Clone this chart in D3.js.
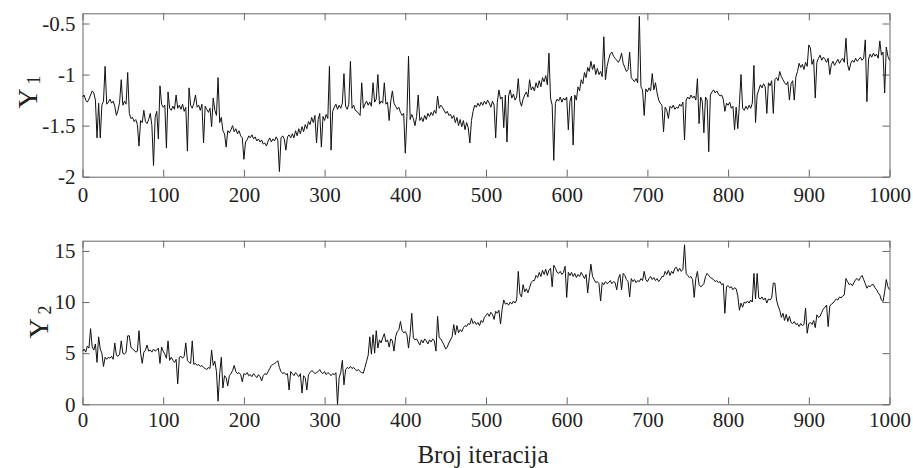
<!DOCTYPE html>
<html>
<head>
<meta charset="utf-8">
<script src="https://cdn.jsdelivr.net/npm/d3@7"></script>
<style>
  body { margin: 0; background: #fff; }
  svg { display: block; }
  text { font-family: "Liberation Serif", "Times New Roman", serif; fill: #222; }
</style>
</head>
<body>
<script>
// Sampler traces, one value every second iteration (0, 2, ..., 1000).
const iterStep = 2;

const y1Values = [
  -1.22,-1.20,-1.25,-1.27,-1.24,-1.20,-1.16,-1.18,-1.25,-1.62,
  -1.28,-1.62,-1.30,-1.26,-0.92,-1.29,-1.27,-1.24,-1.28,-1.26,
  -1.31,-1.40,-1.35,-1.27,-1.05,-1.30,-1.26,-1.29,-0.98,-1.38,
  -1.43,-1.42,-1.46,-1.44,-1.49,-1.70,-1.45,-1.47,-1.35,-1.46,
  -1.48,-1.44,-1.38,-1.50,-1.89,-1.42,-1.36,-1.63,-1.11,-1.29,
  -1.32,-1.30,-1.72,-1.17,-1.33,-1.35,-1.31,-1.34,-1.20,-1.33,
  -1.30,-1.34,-1.29,-1.36,-1.32,-1.75,-1.13,-1.30,-1.33,-1.28,
  -1.20,-1.32,-1.30,-1.35,-1.29,-1.67,-1.31,-1.34,-1.37,-1.33,
  -1.51,-1.23,-1.35,-1.40,-1.03,-1.47,-1.42,-1.55,-1.58,-1.71,
  -1.55,-1.57,-1.54,-1.50,-1.56,-1.53,-1.58,-1.55,-1.60,-1.62,
  -1.83,-1.66,-1.64,-1.60,-1.62,-1.59,-1.63,-1.61,-1.65,-1.63,
  -1.66,-1.64,-1.68,-1.67,-1.70,-1.65,-1.62,-1.66,-1.63,-1.65,
  -1.61,-1.64,-1.95,-1.62,-1.60,-1.63,-1.74,-1.61,-1.59,-1.62,
  -1.58,-1.62,-1.55,-1.60,-1.53,-1.58,-1.51,-1.56,-1.49,-1.53,
  -1.46,-1.49,-1.42,-1.47,-1.40,-1.67,-1.44,-1.38,-1.71,-1.41,
  -1.45,-1.39,-1.43,-0.92,-1.74,-1.36,-1.32,-1.29,-1.34,-1.30,
  -1.33,-1.28,-0.99,-1.31,-1.34,-1.29,-0.87,-1.33,-1.30,-1.35,
  -1.36,-1.38,-1.40,-1.08,-1.33,-1.29,-1.26,-1.30,-1.27,-1.31,
  -1.08,-1.27,-1.24,-1.00,-1.29,-1.26,-1.28,-1.08,-1.29,-1.27,
  -1.45,-1.26,-1.16,-1.28,-1.31,-1.34,-1.32,-1.37,-1.40,-1.38,
  -1.77,-1.41,-0.82,-1.44,-1.39,-1.43,-1.50,-1.41,-1.20,-1.45,
  -1.42,-1.46,-1.40,-1.44,-1.38,-1.41,-1.37,-1.40,-1.35,-1.38,
  -1.21,-1.33,-1.30,-1.32,-1.35,-1.38,-1.36,-1.40,-1.39,-1.43,
  -1.40,-1.47,-1.42,-1.50,-1.44,-1.51,-1.45,-1.54,-1.47,-1.52,
  -1.67,-1.45,-1.36,-1.30,-1.32,-1.28,-1.31,-1.27,-1.30,-1.26,
  -1.29,-1.25,-1.28,-1.32,-1.26,-1.30,-1.62,-1.27,-1.15,-1.24,
  -1.22,-1.52,-1.20,-1.66,-1.21,-1.15,-1.23,-1.19,-1.25,-1.22,
  -1.04,-1.26,-1.31,-1.24,-1.20,-1.17,-1.22,-1.05,-1.15,-1.12,
  -1.16,-1.08,-1.13,-1.06,-1.12,-1.03,-1.07,-1.01,-1.10,-0.79,
  -1.23,-1.30,-1.84,-1.28,-1.24,-1.26,-1.22,-1.27,-1.23,-1.25,
  -1.22,-1.54,-1.26,-1.21,-1.69,-1.20,-1.25,-1.12,-1.16,-1.05,
  -1.09,-0.98,-1.03,-0.93,-0.97,-0.87,-0.95,-0.90,-1.00,-0.94,
  -1.00,-0.97,-1.02,-0.63,-1.05,-0.92,-0.85,-0.80,-0.78,-0.82,
  -0.84,-0.86,-0.88,-0.85,-0.79,-0.89,-0.93,-0.97,-0.95,-0.78,
  -1.03,-1.05,-1.07,-1.04,-1.08,-0.43,-1.12,-1.15,-1.40,-1.14,
  -1.17,-1.13,-1.16,-0.99,-1.15,-1.08,-1.18,-1.25,-1.28,-1.30,
  -1.56,-1.32,-1.35,-1.43,-1.31,-1.33,-1.30,-1.34,-1.32,-1.33,
  -1.29,-1.31,-1.27,-1.64,-1.25,-1.22,-1.24,-1.20,-1.23,-1.21,
  -1.25,-1.04,-1.48,-1.22,-1.26,-1.57,-1.22,-1.25,-1.755,-1.20,
  -1.17,-1.15,-1.18,-1.16,-1.19,-1.21,-1.20,-1.24,-1.36,-1.28,
  -1.30,-1.27,-1.33,-1.31,-1.54,-1.32,-1.53,-1.29,-1.00,-1.33,
  -1.35,-1.31,-1.34,-1.30,-1.33,-1.28,-0.91,-1.47,-1.20,-1.15,
  -1.10,-1.13,-1.09,-1.12,-1.38,-1.08,-1.11,-1.06,-1.38,-1.05,
  -1.03,-1.06,-0.97,-1.02,-1.05,-1.08,-1.10,-1.07,-1.25,-1.09,
  -1.06,-1.25,-1.02,-0.97,-0.89,-0.93,-0.90,-0.95,-0.88,-0.92,
  -0.71,-0.74,-0.90,-0.85,-1.23,-0.88,-0.84,-0.81,-0.86,-0.83,
  -0.85,-0.88,-0.84,-1.00,-0.90,-0.87,-0.91,-0.88,-0.85,-0.89,
  -0.86,-0.84,-0.88,-0.645,-0.90,-0.96,-0.89,-0.86,-0.88,-0.84,
  -0.87,-0.85,-0.83,-0.86,-0.84,-0.66,-1.265,-0.85,-0.80,-0.83,
  -0.79,-0.82,-0.80,-0.84,-0.67,-0.81,-0.78,-1.18,-0.73,-0.82,
  -0.86
];

const y2Values = [
  5.2,5.4,5.1,5.7,5.5,7.4,5.6,5.3,5.9,4.1,
  6.6,5.4,5.0,3.7,4.6,4.4,4.6,4.5,4.7,4.4,
  6.0,4.8,4.7,4.9,6.2,5.0,4.9,5.1,6.7,6.7,
  5.6,5.4,5.3,5.1,5.2,7.2,5.0,4.0,5.1,5.3,
  5.8,5.2,5.3,5.1,5.4,5.2,5.3,5.5,4.0,5.6,
  5.2,4.9,4.5,6.2,4.3,4.6,4.3,4.1,4.4,2.0,
  4.6,4.7,4.5,4.7,6.0,4.3,4.1,4.0,6.2,3.9,
  4.0,3.8,3.9,3.7,3.8,3.6,3.5,3.4,3.6,3.5,
  5.3,3.8,4.2,3.2,0.3,3.0,4.6,1.6,2.8,2.6,
  1.8,2.8,3.0,3.3,3.8,3.2,3.0,3.1,2.9,2.2,
  3.0,2.9,3.1,2.8,2.9,2.7,3.0,2.8,2.6,2.9,
  2.7,2.3,2.8,3.0,2.9,3.2,3.5,3.8,3.9,4.0,
  4.1,4.26,3.6,3.2,3.0,3.1,2.9,3.0,1.4,3.2,
  3.0,2.8,3.1,2.9,2.7,3.0,1.1,2.8,2.6,1.4,
  2.9,3.1,3.3,3.2,3.0,3.1,3.2,3.4,3.1,3.0,
  3.2,2.9,3.1,3.0,2.8,3.0,2.9,3.1,0.0,2.6,
  3.1,4.3,1.9,3.4,3.6,3.5,3.7,3.5,3.6,3.4,
  3.3,3.4,3.2,3.1,3.05,3.6,4.2,4.8,6.6,4.9,
  6.8,5.0,7.2,5.5,6.3,6.0,6.5,6.9,6.1,6.3,
  5.6,6.4,6.2,5.2,6.6,7.1,7.3,8.1,7.2,7.0,
  7.1,6.8,5.5,6.9,8.9,6.5,6.3,6.4,6.1,5.8,
  6.3,6.0,6.4,6.2,5.9,6.3,6.1,6.4,6.2,5.2,
  8.6,6.5,6.4,6.1,5.8,5.4,5.6,6.0,6.3,6.6,
  7.8,6.8,7.7,7.0,7.3,7.1,7.5,7.7,7.6,7.9,
  7.8,8.4,7.9,8.1,7.8,8.0,7.7,8.2,8.0,8.5,
  8.7,8.9,8.6,9.0,8.8,8.3,9.1,8.9,9.2,7.85,
  9.3,10.2,9.8,9.9,9.7,10.0,9.8,10.1,9.9,10.2,
  13.0,10.8,10.5,11.7,11.0,11.3,10.9,11.4,11.9,12.1,
  12.1,12.6,12.4,12.9,12.5,13.1,12.7,13.2,12.6,13.1,
  13.3,11.5,13.6,13.3,12.9,12.8,13.0,12.7,12.9,13.5,
  10.45,12.9,12.6,12.9,12.5,12.8,12.4,12.7,12.5,12.9,
  12.6,12.3,12.7,10.9,12.4,13.7,12.5,12.2,11.9,12.0,
  11.8,10.1,11.9,11.7,12.0,11.8,11.9,12.1,11.8,12.0,
  11.9,11.2,12.3,12.7,11.2,12.8,12.6,12.2,12.0,10.5,
  12.3,12.0,12.2,11.9,12.1,12.0,12.3,12.1,13.0,12.2,
  12.0,12.3,12.5,12.2,12.4,12.1,12.3,12.0,12.2,12.5,
  12.5,13.0,12.7,13.1,12.6,13.0,12.8,13.3,13.4,13.0,
  13.3,13.0,13.2,15.6,12.8,12.6,12.4,12.5,12.2,10.45,
  12.3,13.0,11.7,11.5,11.6,11.8,12.5,12.8,12.6,12.4,
  12.3,12.2,12.0,12.1,11.9,12.0,11.7,11.8,8.9,11.5,
  11.6,11.4,11.5,11.2,11.4,11.3,10.6,9.2,9.9,9.5,
  10.0,9.9,10.1,9.9,10.2,10.0,12.8,10.3,12.8,10.4,
  10.3,10.5,10.2,10.4,9.9,10.3,10.2,10.4,11.85,11.85,
  10.2,9.6,9.2,8.5,8.9,8.2,8.8,8.1,8.6,8.0,
  7.9,8.1,7.8,7.9,7.6,7.9,7.7,7.8,9.4,6.95,
  7.9,8.0,7.8,8.2,7.5,8.75,8.5,8.6,9.0,9.3,
  9.5,9.7,7.6,9.6,9.8,9.9,10.1,10.3,10.2,10.5,
  10.4,10.6,10.7,12.3,12.0,11.7,11.8,11.6,11.9,12.2,
  12.3,12.1,12.4,12.6,12.2,11.8,11.35,11.6,11.5,11.7,
  11.7,11.4,11.2,10.9,10.7,10.2,10.05,11.0,12.2,11.5,
  11.2
];

const xTicks = [0, 100, 200, 300, 400, 500, 600, 700, 800, 900, 1000];
const y1Ticks = [-2, -1.5, -1, -0.5];
const y1Domain = [-2, -0.4];
const y2Ticks = [0, 5, 10, 15];
const y2Domain = [0, 16];
const xLabel = "Broj iteracija";

const W = 913, H = 468;
const svg = d3.select("body").append("svg").attr("width", W).attr("height", H);

const x = d3.scaleLinear().domain([0, 1000]).range([82.5, 889.5]);

function drawPanel(opts) {
  const y = d3.scaleLinear().domain(opts.domain).range([opts.bottom, opts.top]);
  const g = svg.append("g");
  const fmt = d => String(d);

  const styleAxis = sel => {
    sel.selectAll("path.domain").attr("stroke", "#666").attr("stroke-width", 1);
    sel.selectAll(".tick line").attr("stroke", "#666").attr("stroke-width", 1);
    sel.selectAll("text").attr("fill", "#222").attr("font-size", 21)
      .attr("font-family", '"Liberation Serif", "Times New Roman", serif');
  };

  // labelled left and bottom axes, ticks pointing inward
  g.append("g").attr("transform", `translate(${x.range()[0]},0)`)
    .call(d3.axisLeft(y).tickValues(opts.ticks).tickFormat(fmt).tickSizeInner(-7).tickSizeOuter(0).tickPadding(7))
    .call(styleAxis);
  g.append("g").attr("transform", `translate(0,${opts.bottom})`)
    .call(d3.axisBottom(x).tickValues(xTicks).tickFormat(fmt).tickSizeInner(-7).tickSizeOuter(0).tickPadding(opts.xPad))
    .call(styleAxis);
  // mirrored ticks on the top and right edges of the box
  g.append("g").attr("transform", `translate(${x.range()[1]},0)`)
    .call(d3.axisRight(y).tickValues(opts.ticks).tickFormat("").tickSizeInner(-7).tickSizeOuter(0))
    .call(styleAxis);
  g.append("g").attr("transform", `translate(0,${opts.top})`)
    .call(d3.axisTop(x).tickValues(xTicks).tickFormat("").tickSizeInner(-7).tickSizeOuter(0))
    .call(styleAxis);
  g.selectAll(".domain").attr("fill", "none");

  const pts = opts.values.map((v, k) => ({ i: k * iterStep, v }));
  const line = d3.line().x(d => x(d.i)).y(d => y(d.v));
  g.append("path").datum(pts)
    .attr("d", line)
    .attr("fill", "none")
    .attr("stroke", "#111")
    .attr("stroke-width", 1)
    .attr("stroke-linejoin", "round");

  // rotated axis title with subscript
  const t = g.append("text")
    .attr("transform", `translate(${opts.labelX},${opts.labelY}) rotate(-90)`)
    .attr("text-anchor", "middle")
    .attr("font-size", 28);
  t.append("tspan").text("Y");
  t.append("tspan").attr("font-size", 18).attr("dy", 3).attr("dx", 4).text(opts.sub);
}

drawPanel({ values: y1Values, ticks: y1Ticks, domain: y1Domain, top: 13.3, bottom: 176.7,
            xPad: 10, sub: "1", labelX: 37, labelY: 92 });
drawPanel({ values: y2Values, ticks: y2Ticks, domain: y2Domain, top: 240.7, bottom: 404.3,
            xPad: 8, sub: "2", labelX: 48, labelY: 322 });

svg.append("text")
  .attr("x", 483).attr("y", 463)
  .attr("text-anchor", "middle")
  .attr("font-size", 25)
  .text(xLabel);
</script>
</body>
</html>
